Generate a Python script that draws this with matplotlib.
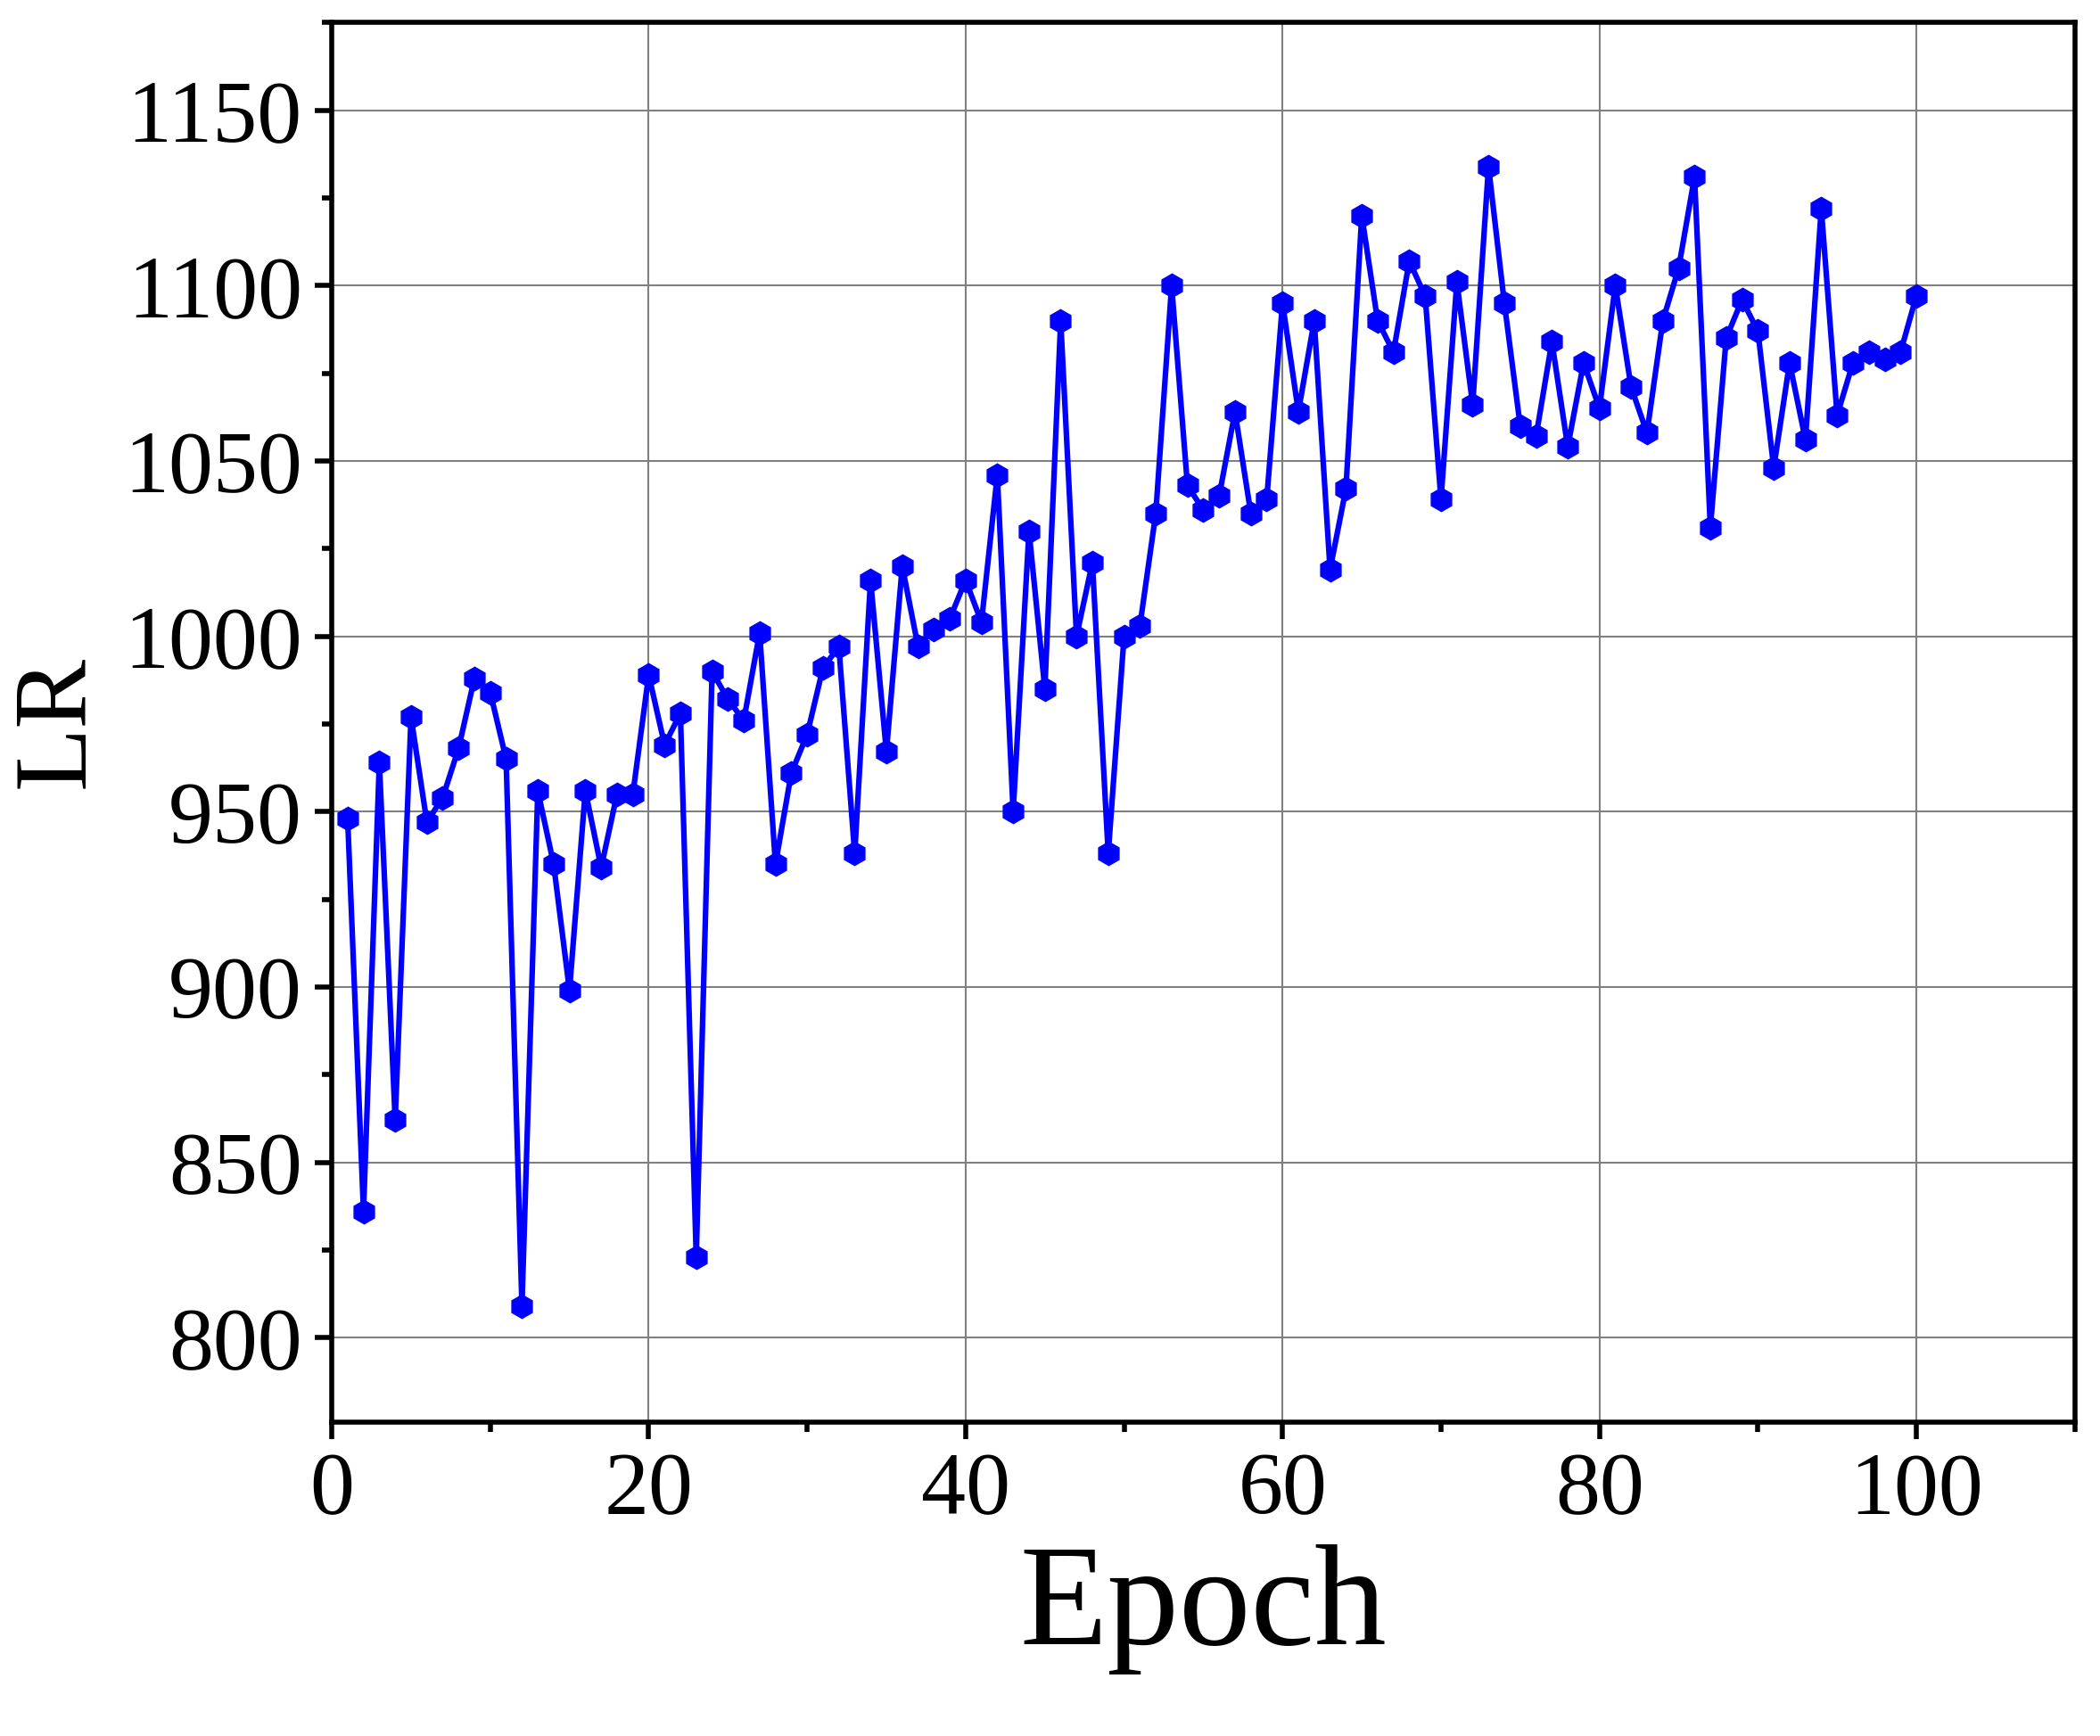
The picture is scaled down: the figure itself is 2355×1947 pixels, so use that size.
import matplotlib
matplotlib.use("Agg")
import matplotlib.pyplot as plt
from matplotlib.ticker import MultipleLocator

epochs = list(range(1, 101))
lr = [948, 836, 964, 862, 977, 947, 954, 968, 988, 984,
      965, 809, 956, 935, 899, 956, 934, 955, 955, 989,
      969, 978, 823, 990, 982, 976, 1001, 935, 961, 972,
      991, 997, 938, 1016, 967, 1020, 997, 1002, 1005, 1016,
      1004, 1046, 950, 1030, 985, 1090, 1000, 1021, 938, 1000,
      1003, 1035, 1100, 1043, 1036, 1040, 1064, 1035, 1039, 1095,
      1064, 1090, 1019, 1042, 1120, 1090, 1081, 1107, 1097, 1039,
      1101, 1066, 1134, 1095, 1060, 1057, 1084, 1054, 1078, 1065,
      1100, 1071, 1058, 1090, 1105, 1131, 1031, 1085, 1096, 1087,
      1048, 1078, 1056, 1122, 1063, 1078, 1081, 1079, 1081, 1097]

plt.rcParams['font.family'] = ['Liberation Serif', 'DejaVu Serif']
fig = plt.figure(figsize=(23.55, 19.47), dpi=100)
ax = fig.add_axes([0.158, 0.181, 0.83, 0.806])
ax.plot(epochs, lr, color='#0000ff', lw=4.5, marker='h', markersize=19, zorder=3)
ax.set_xlim(0, 110)
ax.set_ylim(776, 1175)
ax.xaxis.set_major_locator(MultipleLocator(20))
ax.xaxis.set_minor_locator(MultipleLocator(10))
ax.yaxis.set_major_locator(MultipleLocator(50))
ax.yaxis.set_minor_locator(MultipleLocator(25))
ax.grid(True, which='major', color='#808080', lw=1.5)
for s in ax.spines.values():
    s.set_linewidth(4)
ax.tick_params(which='major', direction='out', length=14, width=4, labelsize=72, pad=10)
ax.tick_params(which='minor', direction='out', length=8, width=4)
ax.set_xlabel('Epoch', fontsize=116, labelpad=10)
ax.set_ylabel('LR', fontsize=84, labelpad=15)
fig.savefig('out.png', dpi=100)
